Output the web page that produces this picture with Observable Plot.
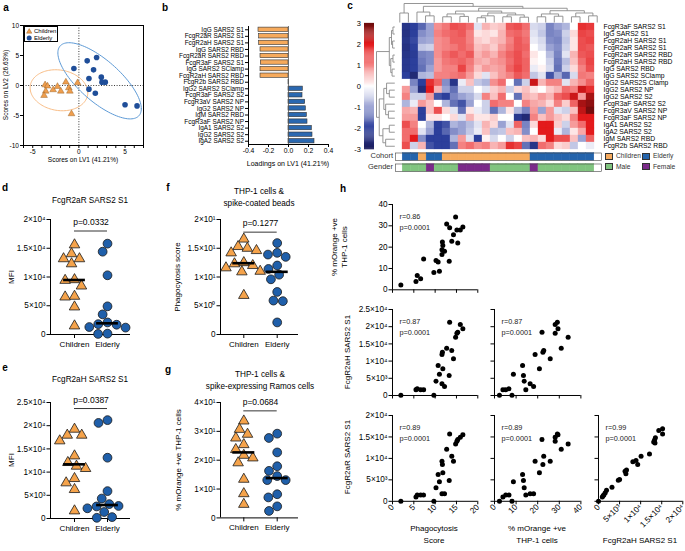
<!DOCTYPE html>
<html>
<head>
<meta charset="utf-8">
<script src="https://cdn.jsdelivr.net/npm/d3@7"></script>
<script src="https://cdn.jsdelivr.net/npm/@observablehq/plot@0.6"></script>
<style>
html,body{margin:0;padding:0;background:#fff;}
#fig{position:relative;width:685px;height:551px;overflow:hidden;background:#fff;font-family:"Liberation Sans",Arial,Helvetica,sans-serif;color:#000;}
.t{position:absolute;white-space:nowrap;line-height:1;}
</style>
</head>
<body>
<div id="fig"></div>
<script>
// ================= DATA =================
const cohortGroups = ["Children", "Elderly"];

// Panel a: PLS-DA scores
const aChildrenX = [-3.66,-3.40,-3.59,-3.77,-2.79,-2.32,-1.41,-1.96,-1.09,-0.98,-0.14,-0.80];
const aChildrenY = [0.10,-0.10,-0.95,-1.67,-0.72,-0.17,0.56,-0.95,-0.39,-0.95,0.44,-4.72];
const aElderlyX  = [-0.54,0.90,1.92,1.59,1.09,2.43,2.50,2.86,1.09,1.78,5.00,6.30];
const aElderlyY  = [2.83,4.11,4.67,2.61,1.17,1.39,0.56,0.56,-0.61,-1.28,-3.22,-3.40];

// Panel b: loadings on LV1
const bFeatures = ["IgG SARS2 S1","FcgR2aR SARS2 S1","FcgR2aH SARS2 S1","IgG SARS2 RBD","FcgR2aR SARS2 RBD","FcgR3aF SARS2 S1","IgG SARS2 SClamp","FcgR2aH SARS2 RBD","FcgR2b SARS2 RBD","IgG2 SARS2 SClamp","FcgR3aF SARS2 S2","FcgR3aV SARS2 NP","IgG2 SARS2 NP","IgM SARS2 RBD","FcgR3aF SARS2 NP","IgA1 SARS2 S2","IgG2 SARS2 S2","IgA2 SARS2 S2"];
const bLoadings = [-0.300,-0.293,-0.293,-0.280,-0.280,-0.277,-0.280,-0.280,0.003,0.143,0.140,0.167,0.173,0.183,0.190,0.233,0.240,0.260];

// Panel c: heatmap (z-scores)
const hmRows = ["FcgR3aF SARS2 S1","IgG SARS2 S1","FcgR2aH SARS2 S1","FcgR2aR SARS2 S1","FcgR2aR SARS2 RBD","FcgR2aH SARS2 RBD","IgG SARS2 RBD","IgG SARS2 SClamp","IgG2 SARS2S Clamp","IgG2 SARS2 NP","IgG2 SARS2 S2","FcgR3aF SARS2 S2","FcgR3aV SARS2 NP","FcgR3aF SARS2 NP","IgA1 SARS2 S2","IgA2 SARS2 S2","IgM SARS2 RBD","FcgR2b SARS2 RBD"];
const hmValues = [
  [-2.3,-2.0,-1.6,-1.0,0.9,1.1,1.5,1.4,1.2,-0.3,0.6,0.4,0.5,1.4,1.5,1.2,-0.4,-0.5,-1.3,-1.0,-0.8,0.0,1.8,1.7],
  [-2.4,-2.0,-1.2,-1.0,1.0,1.2,1.3,1.4,1.0,0.2,0.3,0.2,0.6,1.2,1.3,1.1,-0.3,-0.6,-1.3,-1.2,-0.5,0.3,1.6,1.5],
  [-2.3,-1.9,-1.0,-0.9,0.9,1.0,1.3,1.3,1.0,0.4,0.3,0.5,0.6,1.0,1.4,1.2,-0.2,-0.4,-1.2,-1.3,-0.6,0.2,1.5,1.6],
  [-2.4,-2.0,-0.6,-0.5,0.9,1.0,1.1,1.3,1.1,0.5,0.6,0.4,0.8,1.1,1.4,1.3,0.0,-0.3,-1.0,-1.2,-0.5,0.2,1.5,1.4],
  [-2.3,-2.1,-1.3,-1.2,0.9,1.2,1.4,1.2,1.4,0.6,0.8,0.6,1.0,1.3,1.5,1.2,0.2,0.0,-0.7,-1.3,-0.3,0.6,1.4,1.5],
  [-2.2,-2.0,-1.4,-1.2,0.8,1.1,1.2,1.3,1.1,0.7,0.6,0.8,0.9,1.2,1.5,1.3,0.1,0.0,-0.5,-1.4,-0.7,0.5,1.2,1.6],
  [-2.2,-2.0,-1.5,-1.0,0.8,1.0,1.0,1.6,1.0,0.5,0.8,0.7,0.8,1.3,1.6,1.3,-0.2,0.1,-0.4,-1.5,-0.5,0.3,1.0,1.5],
  [-2.0,-2.6,-0.8,-0.7,1.0,1.0,1.1,1.2,0.8,0.3,-0.3,0.5,0.8,1.0,1.4,1.2,-0.6,-0.3,-1.8,-0.9,-1.6,-0.4,1.1,1.0],
  [0.0,-1.3,-2.0,1.8,1.3,-1.2,-2.3,-0.2,0.5,-0.6,-0.8,0.9,1.2,0.0,-1.5,-0.5,2.2,0.6,1.0,1.0,-0.3,0.6,0.9,1.3],
  [0.8,-1.0,-2.5,2.0,0.6,-1.0,-1.5,-0.5,-0.5,0.0,-0.3,0.4,0.6,-0.5,0.3,0.5,0.2,0.0,0.4,0.6,1.2,1.0,2.2,1.8],
  [1.0,-0.5,-0.5,0.8,-1.8,-2.0,-1.3,-1.0,-0.8,-0.4,1.0,0.5,1.2,0.0,-1.5,0.6,0.5,0.8,0.6,1.3,1.5,2.2,0.8,2.5],
  [-0.8,-0.2,0.8,0.5,0.0,-0.8,-1.5,-1.8,-1.0,0.0,-0.5,1.2,1.0,1.0,0.0,1.0,0.7,0.6,0.3,1.0,0.4,1.3,2.5,2.7],
  [0.7,0.6,-2.0,0.5,1.5,0.3,-0.3,-1.5,0.2,-0.2,-0.5,-1.5,-0.8,0.2,-0.8,-1.3,0.8,-1.0,0.8,-0.3,-0.5,0.5,2.3,2.9],
  [0.8,0.8,-2.0,0.2,0.2,0.0,0.3,-0.3,0.6,0.2,0.2,0.4,0.0,0.0,-2.2,-2.6,1.0,0.5,0.8,0.5,0.3,1.0,2.0,2.0],
  [1.5,1.0,0.0,-0.8,-2.0,-1.8,-0.8,-1.0,-0.7,-0.3,0.6,0.3,-1.0,-0.3,1.3,-1.3,0.3,2.0,2.0,0.4,-0.5,0.8,1.2,2.0],
  [1.2,1.2,-0.3,-1.0,-2.0,-1.6,-1.2,-1.0,-0.6,-0.2,0.5,-0.7,-0.6,0.5,0.6,-1.2,0.0,2.0,2.0,-0.2,-0.8,0.2,0.7,2.0],
  [1.2,2.0,-1.2,-2.0,-2.0,-2.0,-0.8,0.8,-0.3,-2.0,0.1,-0.4,0.0,-0.5,0.0,0.5,0.6,0.3,2.0,1.5,1.5,0.5,-1.0,1.3],
  [1.5,-0.5,0.6,-1.8,-2.0,-2.0,-1.5,1.0,1.2,0.9,1.0,0.6,0.8,1.8,1.6,-1.5,-2.3,1.2,1.0,0.3,0.4,-0.6,0.0,-0.2]
];
const hmCohort = "EECEECCCCCCCCCCCEEEEEEEE".split("").map(c => c === "C" ? "Children" : "Elderly");
const hmGender = "MMMFMMMFFFFMMMMMFMMMMMMM".split("").map(c => c === "M" ? "Male" : "Female");
const hmTicks = [-3,-2,-1,0,1,2,3];
// dendrograms: [height, left, right]; leaves are column/row indices
const colTree = [1.0, [0.5, 0, 1],
  [0.85, [0.55, 2, [0.35, 3, 4]],
    [0.75,
      [0.6, [0.45, [0.3, 5, 6], [0.32, 7, 8]], [0.5, [0.35, [0.25, 9, 10], 11], [0.4, [0.3, 12, 13], [0.28, 14, 15]]]],
      [0.62, [0.45, [0.3, 16, 17], [0.33, 18, 19]], [0.5, [0.3, 20, 21], [0.35, 22, 23]]]]]];
const rowTree = [1.0,
  [0.3, [0.18, [0.1, 0, 1], [0.12, 2, 3]], [0.22, [0.1, 4, 5], [0.15, 6, 7]]],
  [0.85, [0.6, [0.45, 8, [0.3, 9, 10]], [0.5, 11, [0.35, 12, 13]]], [0.65, [0.3, 14, 15], [0.5, 16, 17]]]];

// Panels d-g
const dChildren = [15600,14050,13180,13180,12300,9540,9420,8440,6650,6530,4800,1500];
const dElderly  = [15800,14400,10300,4900,3500,2100,1800,1700,1300,1200,150,100];
const eChildren = [19250,17960,17960,16740,13500,12070,11280,10780,8620,7690,6250,1650];
const eElderly  = [21200,20600,13100,5900,4300,3100,2700,2600,2200,1400,300,150];
const fChildren = [16.6,15.3,15.0,14.6,14.2,12.5,12.3,12.0,11.6,11.0,10.9,6.8];
const fElderly  = [15.9,14.2,13.9,13.5,12.0,11.4,10.4,9.6,7.4,5.9,5.8,2.1];
const gChildren = [33.6,30.7,29.0,27.7,25.4,23.7,21.7,20.8,19.1,13.4,8.4,4.7];
const gElderly  = [29.2,27.7,22.7,17.9,16.3,14.5,13.1,13.1,8.2,7.1,4.0,2.4];
const pValues = ["0.0332","0.0387","0.1277","0.0684"];

// Panel h: per-subject values (phagocytosis score, %mOrange, FcgR2aH S1, FcgR2aR S1)
const hP = [1.96,5.5,5.8,6.6,7.3,9.7,10.2,10.7,11.0,11.6,11.7,11.8,11.6,12.2,12.7,13.3,13.4,13.9,14.3,14.8,15.1,15.3,15.9,16.5];
const hM = [2.3,3.9,6.7,5.2,14.5,8.1,13.75,13.0,8.75,18.8,22.4,20.8,16.5,18.1,30.9,13.4,29.1,22.8,25.8,34.1,28.1,22.0,28.1,29.4];
const hH = [100,1650,1940,1650,1650,100,4170,8720,6200,11900,12600,7750,3390,2620,13760,5800,21300,13080,10660,16960,18120,18400,20640,19380];
const hR = [0,1000,1470,1470,1470,0,3170,6260,4560,9350,8580,6650,1780,1780,12140,4870,15690,10510,9350,13370,13990,14380,14920,15540];
// FcgR2aH vs FcgR2aR panel
const h3H = [0,900,1100,1300,1600,1900,3200,4700,5000,6300,6500,6650,8150,8900,9300,10100,12100,13100,13300,13400,13500,14300,15200,15200];
const h3R = [0,1000,1300,1500,2000,2550,3300,4900,5100,7000,6400,7300,9200,9500,8600,10500,11050,13800,14300,13600,14800,16500,16900,15700];
const hStats = [["0.86","0.0001"],["0.87","0.0001"],["0.87","0.0001"],["0.89","0.0001"],["0.89","0.0001"],["0.99","0.0001"]];

// ================= STYLE =================
const FONT = '"Liberation Sans", Arial, Helvetica, sans-serif';
const ORANGE = "#F5A34B", BLUE = "#1F5FAA";
const BAR_OR = "#F6AA5C", BAR_BL = "#2A68B0";
const COH = {Children: "#F5AA5E", Elderly: "#2464AC"};
const GEN = {Male: "#80C47F", Female: "#7B2A8A"};
const HM_COLORS = ["#1b1c5c","#2c3f9b","#9aa2d3","#ffffff","#f48282","#e31a1c","#6a0c0c"];
const hmColor = {type: "linear", domain: hmTicks, range: HM_COLORS, interpolate: "rgb", clamp: true};

const fig = document.getElementById("fig");
const SUP = {"0":"⁰","1":"¹","2":"²","3":"³","4":"⁴","5":"⁵","6":"⁶","7":"⁷","8":"⁸","9":"⁹","-":"⁻"};
function sci(v) {
  if (v === 0) return "0";
  const e = Math.floor(Math.log10(v) + 1e-9);
  const m = +(v / Math.pow(10, e)).toFixed(2);
  return `${m}×10${String(e).split("").map(c => SUP[c]).join("")}`;
}
function plotAt(fr, pad, opts, fontSize) {
  const width = fr.x1 - fr.x0 + pad.l + pad.r;
  const height = fr.y1 - fr.y0 + pad.t + pad.b;
  const el = Plot.plot({
    width, height, marginLeft: pad.l, marginRight: pad.r, marginTop: pad.t, marginBottom: pad.b,
    style: {background: "transparent", fontFamily: FONT, fontSize: fontSize + "px", overflow: "visible", color: "#000"},
    ...opts
  });
  el.style.position = "absolute";
  el.style.left = (fr.x0 - pad.l) + "px";
  el.style.top = (fr.y0 - pad.t) + "px";
  fig.appendChild(el);
  return el;
}
function txt(s, x, y, o = {}) {
  const {size = 8, anchor = "middle", rot = 0, bold = false, color = "#000"} = o;
  const d = document.createElement("div");
  d.className = "t"; d.textContent = s;
  d.style.fontSize = size + "px"; d.style.left = x + "px"; d.style.top = y + "px"; d.style.color = color;
  if (bold) d.style.fontWeight = "bold";
  const tx = anchor === "start" ? "0" : anchor === "end" ? "-100%" : "-50%";
  d.style.transform = `translate(${tx}, -50%)` + (rot ? ` rotate(${rot}deg)` : "");
  fig.appendChild(d);
  return d;
}
function box(x, y, w, h, color) {
  const d = document.createElement("div");
  d.style.cssText = `position:absolute;left:${x}px;top:${y}px;width:${w}px;height:${h}px;background:${color};border:0.7px solid #333;box-sizing:border-box;`;
  fig.appendChild(d);
}

// ================= PANEL a =================
const aChildren = aChildrenX.map((x, i) => ({x, y: aChildrenY[i]}));
const aElderly = aElderlyX.map((x, i) => ({x, y: aElderlyY[i]}));
function confEllipse(pts) {
  const n = pts.length, mx = d3.mean(pts, d => d.x), my = d3.mean(pts, d => d.y);
  const sxx = d3.sum(pts, d => (d.x - mx) ** 2) / (n - 1);
  const syy = d3.sum(pts, d => (d.y - my) ** 2) / (n - 1);
  const sxy = d3.sum(pts, d => (d.x - mx) * (d.y - my)) / (n - 1);
  const k = Math.sqrt(5.991);
  const l11 = Math.sqrt(sxx), l21 = sxy / l11, l22 = Math.sqrt(Math.max(syy - l21 * l21, 0));
  return d3.range(0, 121).map(j => {
    const t = 2 * Math.PI * j / 120, u = Math.cos(t), v = Math.sin(t);
    return {x: mx + k * l11 * u, y: my + k * (l21 * u + l22 * v)};
  });
}
plotAt({x0: 23, x1: 143, y0: 25, y1: 145}, {l: 23, r: 6, t: 4, b: 12}, {
  x: {domain: [-6, 7], axis: null}, y: {domain: [-10, 10], axis: null},
  marks: [
    Plot.ruleX([0], {stroke: "#222", strokeDasharray: "1,1.6", strokeWidth: 0.9}),
    Plot.ruleY([0], {stroke: "#222", strokeDasharray: "1,1.6", strokeWidth: 0.9}),
    Plot.line(confEllipse(aChildren), {x: "x", y: "y", stroke: "#F9BD86", strokeWidth: 1, clip: true}),
    Plot.line(confEllipse(aElderly), {x: "x", y: "y", stroke: "#5D9AD6", strokeWidth: 1, clip: true}),
    Plot.dot(aChildren, {x: "x", y: "y", symbol: "triangle", r: 2.5, fill: "#EF9E4E", stroke: "#8a5618", strokeWidth: 0.4}),
    Plot.dot(aElderly, {x: "x", y: "y", r: 2.8, fill: "#1F4E99"}),
    Plot.frame({stroke: "#000", strokeWidth: 1}),
    Plot.axisX({ticks: d3.range(-6, 8), tickSize: 3, tickPadding: 1, tickFormat: d => (d % 5 === 0 ? String(d) : ""), label: null}),
    Plot.axisY({ticks: [-10, -5, 0, 5, 10], tickSize: 3, tickPadding: 1.5, tickFormat: d => String(d), label: null})
  ]
}, 6.5);
// legend box
{
  const lg = document.createElement("div");
  lg.style.cssText = "position:absolute;left:24px;top:26px;width:34px;height:16px;border:0.7px solid #000;background:#fff;box-sizing:border-box;";
  lg.innerHTML = `<svg width="34" height="16" style="position:absolute;left:0;top:0;font-family:${FONT.replace(/"/g, "'")}">
    <path d="M4.2,1.6 L6.9,6.2 L1.5,6.2Z" fill="#EF9E4E" stroke="#8a5618" stroke-width="0.4"/>
    <circle cx="4.2" cy="11" r="2.5" fill="#1F4E99"/>
    <text x="9" y="6.4" font-size="6">Children</text>
    <text x="9" y="13.3" font-size="6">Elderly</text></svg>`;
  fig.appendChild(lg);
}
txt("Scores on LV1 (41.21%)", 83, 160, {size: 6.5});
txt("Scores on LV2 (26.63%)", 6, 85, {size: 6.5, rot: -90});

// ================= PANEL b =================
const bRows = bLoadings.map((v, i) => ({i, v}));
plotAt({x0: 248, x1: 328, y0: 25.5, y1: 143.5}, {l: 90, r: 8, t: 3, b: 12}, {
  x: {domain: [-0.4, 0.4], axis: null}, y: {domain: [-0.5, 17.5], reverse: true, axis: null},
  marks: [
    Plot.rect(bRows.filter(d => d.v < 0), {x1: 0, x2: "v", y1: d => d.i - 0.33, y2: d => d.i + 0.33, fill: BAR_OR, stroke: "#333", strokeWidth: 0.6}),
    Plot.rect(bRows.filter(d => d.v >= 0), {x1: 0, x2: "v", y1: d => d.i - 0.33, y2: d => d.i + 0.33, fill: BAR_BL, stroke: "#333", strokeWidth: 0.6}),
    Plot.ruleX([0], {stroke: "#555", strokeWidth: 0.8}),
    Plot.ruleX([-0.4], {stroke: "#000", strokeWidth: 1}),
    Plot.ruleY([17.5], {stroke: "#000", strokeWidth: 1}),
    Plot.axisY({ticks: d3.range(bFeatures.length), tickFormat: i => bFeatures[i], tickSize: 3, tickPadding: 1.5, label: null}),
    Plot.axisX({ticks: [-0.4, -0.2, 0, 0.2, 0.4], tickFormat: d => d.toFixed(1), tickSize: 3, tickPadding: 1, label: null, fontSize: 6.8})
  ]
}, 6.4);
txt("Loadings on LV1 (41.21%)", 288, 163, {size: 7});

// ================= PANEL c =================
const hmCells = hmValues.flatMap((row, r) => row.map((v, c) => ({r: hmRows[r], c, v})));
plotAt({x0: 395, x1: 601, y0: 22.7, y1: 149}, {l: 1, r: 84, t: 1, b: 1}, {
  x: {type: "band", domain: d3.range(24), padding: 0, axis: null},
  y: {type: "band", domain: hmRows, padding: 0, axis: null},
  color: hmColor,
  marks: [
    Plot.cell(hmCells, {x: "c", y: "r", fill: "v", stroke: "v", strokeWidth: 0.3}),
    Plot.axisY({anchor: "right", tickSize: 0, tickPadding: 2, label: null})
  ]
}, 6.8);
function treeSegs(node, segs) {
  if (typeof node === "number") return {pos: node, h: 0};
  const [h, a, b] = node;
  const A = treeSegs(a, segs), B = treeSegs(b, segs);
  segs.push({p1: A.pos, h1: h, p2: B.pos, h2: h});
  segs.push({p1: A.pos, h1: A.h, p2: A.pos, h2: h});
  segs.push({p1: B.pos, h1: B.h, p2: B.pos, h2: h});
  return {pos: (A.pos + B.pos) / 2, h};
}
const colSegs = []; treeSegs(colTree, colSegs);
const rowSegs = []; treeSegs(rowTree, rowSegs);
plotAt({x0: 395, x1: 601, y0: 2.7, y1: 21.7}, {l: 0, r: 0, t: 1, b: 1}, {
  x: {domain: [-0.5, 23.5], axis: null}, y: {domain: [0, 1], axis: null},
  marks: [Plot.link(colSegs, {x1: "p1", y1: "h1", x2: "p2", y2: "h2", stroke: "#8a8a8a", strokeWidth: 0.9})]
}, 7);
plotAt({x0: 375.7, x1: 394, y0: 22.7, y1: 149}, {l: 1, r: 1, t: 0, b: 0}, {
  x: {domain: [0, 1], reverse: true, axis: null}, y: {domain: [-0.5, 17.5], reverse: true, axis: null},
  marks: [Plot.link(rowSegs, {y1: "p1", x1: "h1", y2: "p2", x2: "h2", stroke: "#8a8a8a", strokeWidth: 0.9})]
}, 7);
// colour bar
const ramp = d3.range(-3, 3, 0.05);
plotAt({x0: 364, x1: 374, y0: 22.7, y1: 149}, {l: 22, r: 1, t: 5, b: 5}, {
  x: {domain: [0, 1], axis: null}, y: {domain: [-3, 3], axis: null},
  color: hmColor,
  marks: [
    Plot.rect(ramp, {x1: 0, x2: 1, y1: d => d, y2: d => d + 0.056, fill: d => d + 0.025}),
    Plot.axisY({ticks: hmTicks, tickSize: 0, tickPadding: 3.5, tickFormat: d => String(d), label: null})
  ]
}, 7.5);
// annotation bars
const annCols = d3.range(24);
plotAt({x0: 395, x1: 601, y0: 152.3, y1: 160}, {l: 0, r: 0, t: 0.5, b: 0.5}, {
  x: {type: "band", domain: annCols, padding: 0, axis: null},
  color: {domain: cohortGroups, range: [COH.Children, COH.Elderly]},
  marks: [Plot.cellX(annCols, {x: d => d, fill: d => hmCohort[d], stroke: d => hmCohort[d], strokeWidth: 0.3}), Plot.frame({stroke: "#444", strokeWidth: 0.6})]
}, 7);
plotAt({x0: 395, x1: 601, y0: 163, y1: 170.7}, {l: 0, r: 0, t: 0.5, b: 0.5}, {
  x: {type: "band", domain: annCols, padding: 0, axis: null},
  color: {domain: ["Male", "Female"], range: [GEN.Male, GEN.Female]},
  marks: [Plot.cellX(annCols, {x: d => d, fill: d => hmGender[d], stroke: d => hmGender[d], strokeWidth: 0.3}), Plot.frame({stroke: "#444", strokeWidth: 0.6})]
}, 7);
txt("Cohort", 393, 156.2, {size: 7.5, anchor: "end", color: "#333"});
txt("Gender", 393, 167, {size: 7.5, anchor: "end", color: "#333"});
box(605, 152.6, 8, 7.2, COH.Children); txt("Children", 616, 156.3, {size: 6.7, anchor: "start", color: "#333"});
box(642.3, 152.6, 8, 7.2, COH.Elderly); txt("Elderly", 653, 156.3, {size: 6.7, anchor: "start", color: "#333"});
box(605, 163.3, 8, 7.2, GEN.Male); txt("Male", 616, 167, {size: 6.7, anchor: "start", color: "#333"});
box(642.3, 163.3, 8, 7.2, GEN.Female); txt("Female", 653, 167, {size: 6.7, anchor: "start", color: "#333"});

// ================= PANELS d-g =================
function swarmOffsets(vals, ppu, diam) {
  const idx = d3.range(vals.length).sort((a, b) => d3.descending(vals[a], vals[b]));
  const placed = [], off = new Array(vals.length).fill(0);
  for (const i of idx) {
    const y = vals[i] * ppu;
    const near = placed.filter(p => Math.abs(p.y - y) < diam);
    const cands = [0];
    for (const p of near) { const dx = Math.sqrt(diam * diam - (p.y - y) ** 2); cands.push(p.x + dx, p.x - dx); }
    cands.sort((a, b) => Math.abs(a) - Math.abs(b) || a - b);
    let best = 0;
    for (const c of cands) {
      if (near.every(p => (p.x - c) ** 2 + (p.y - y) ** 2 >= diam * diam - 1e-6)) { best = c; break; }
    }
    off[i] = best; placed.push({x: best, y});
  }
  return off;
}
function dotPanel(fr, cx, children, elderly, yMax, yStep, pText, bracketY) {
  const unit = cx[1] - cx[0];
  const xDom = [(fr.x0 - cx[0]) / unit, (fr.x1 - cx[0]) / unit];
  const ppu = (fr.y1 - fr.y0) / yMax;
  const oc = swarmOffsets(children, ppu, 9.4), oe = swarmOffsets(elderly, ppu, 9.4);
  const cd = children.map((v, i) => ({x: oc[i] / unit, v}));
  const ed = elderly.map((v, i) => ({x: 1 + oe[i] / unit, v}));
  const med = [{g: 0, m: d3.median(children)}, {g: 1, m: d3.median(elderly)}];
  plotAt(fr, {l: 50, r: 8, t: 16, b: 20}, {
    x: {domain: xDom, axis: null}, y: {domain: [0, yMax], axis: null},
    marks: [
      Plot.ruleX([xDom[0]], {stroke: "#000", strokeWidth: 1}),
      Plot.ruleY([0], {stroke: "#000", strokeWidth: 1}),
      Plot.axisY({ticks: d3.range(0, yMax + yStep / 2, yStep), tickSize: 3.5, tickPadding: 1.5, tickFormat: sci, label: null, fontSize: 8.2}),
      Plot.axisX({ticks: [0, 1], tickSize: 4, tickPadding: 2.5, tickFormat: i => cohortGroups[i], label: null, fontSize: 8}),
      Plot.dot(cd, {x: "x", y: "v", symbol: "triangle", r: 3.9, fill: ORANGE, stroke: "#1a1a1a", strokeWidth: 0.8}),
      Plot.dot(ed, {x: "x", y: "v", r: 4.4, fill: BLUE, stroke: "#1a1a1a", strokeWidth: 0.8}),
      Plot.ruleY(med, {y: "m", x1: d => d.g - 0.33, x2: d => d.g + 0.33, stroke: "#000", strokeWidth: 2.6}),
      Plot.ruleY([bracketY], {x1: 0, x2: 1, stroke: "#000", strokeWidth: 0.8}),
      Plot.text([`p=${pText}`], {x: 0.5, y: bracketY, dy: -8.5, text: d => d, fontSize: 8.5})
    ]
  }, 8);
}
dotPanel({x0: 50, x1: 130, y0: 219, y1: 334}, [74, 107], dChildren, dElderly, 20000, 5000, pValues[0], 18000);
dotPanel({x0: 50, x1: 130, y0: 402.3, y1: 518.3}, [74, 107], eChildren, eElderly, 25000, 5000, pValues[1], 23700);
dotPanel({x0: 220, x1: 298, y0: 219, y1: 334}, [243.3, 276.7], fChildren, fElderly, 20, 5, pValues[2], 17.8);
dotPanel({x0: 220, x1: 298, y0: 402.3, y1: 517.7}, [243.3, 276.7], gChildren, gElderly, 40, 10, pValues[3], 37.1);
txt("FcgR2aR SARS2 S1", 90, 200.5, {size: 8.2});
txt("MFI", 12, 277, {size: 8, rot: -90});
txt("FcgR2aH SARS2 S1", 90, 380, {size: 8.2});
txt("MFI", 12, 460, {size: 8, rot: -90});
txt("THP-1 cells &", 259, 192, {size: 8.2});
txt("spike-coated beads", 259, 203.5, {size: 8.2});
txt("Phagocytosis score", 178, 277, {size: 8, rot: -90});
txt("THP-1 cells &", 260, 375, {size: 8.2});
txt("spike-expressing Ramos cells", 260, 387, {size: 8.2});
txt("% mOrange +ve THP-1 cells", 179, 460, {size: 8, rot: -90});

// ================= PANEL h =================
function scatter(fr, xs, ys, xDom, yDom, xTicks, yTicks, xFmt, yFmt, stat) {
  plotAt(fr, {l: 36, r: 4, t: 4, b: 24}, {
    x: {domain: xDom, axis: null}, y: {domain: yDom, axis: null},
    marks: [
      Plot.ruleX([xDom[0]], {stroke: "#000", strokeWidth: 1}),
      Plot.ruleY([yDom[0]], {stroke: "#000", strokeWidth: 1}),
      Plot.axisY({ticks: yTicks, tickSize: 3.5, tickPadding: 1.5, tickFormat: yFmt || (() => ""), label: null}),
      Plot.axisX({ticks: xTicks, tickSize: 3.5, tickPadding: 1, tickRotate: xFmt ? -45 : 0, tickFormat: xFmt || (() => ""), label: null}),
      Plot.dot(d3.range(xs.length), {x: i => xs[i], y: i => ys[i], r: 2.5, fill: "#000"}),
      Plot.text([`r=${stat[0]}\np=${stat[1]}`], {frameAnchor: "top-left", dx: 7, dy: 7, lineAnchor: "top", textAnchor: "start", lineHeight: 1.45, fontSize: 7.3, text: d => d, fill: "#222"})
    ]
  }, 8.2);
}
const tP = [0, 5, 10, 15, 20], tM = [0, 10, 20, 30, 40], tE = d3.range(0, 20001, 5000), tE25 = d3.range(0, 25001, 5000);
const num = d => String(d);
scatter({x0: 391.7, x1: 477, y0: 204, y1: 289.3}, hP, hM, [0, 20], [0, 40], tP, tM, null, num, hStats[0]);
scatter({x0: 391.7, x1: 477, y0: 309, y1: 395}, hP, hH, [0, 20], [0, 25000], tP, tE25, null, sci, hStats[1]);
scatter({x0: 494.3, x1: 580.7, y0: 309, y1: 395}, hM, hH, [0, 40], [0, 25000], tM, tE25, null, null, hStats[2]);
scatter({x0: 391.7, x1: 477, y0: 414.5, y1: 500.3}, hP, hR, [0, 20], [0, 20000], tP, tE, num, sci, hStats[3]);
scatter({x0: 494.3, x1: 580.7, y0: 414.5, y1: 500.3}, hM, hR, [0, 40], [0, 20000], tM, tE, num, null, hStats[4]);
scatter({x0: 597.7, x1: 682, y0: 414.5, y1: 500.3}, h3H, h3R, [0, 20000], [0, 20000], tE, tE, sci, null, hStats[5]);
txt("% mOrange +ve", 335, 247, {size: 8, rot: -90});
txt("THP-1 cells", 344.5, 247, {size: 8, rot: -90});
txt("FcgR2aH SARS2 S1", 348, 352, {size: 8, rot: -90});
txt("FcgR2aR SARS2 S1", 348, 457, {size: 8, rot: -90});
txt("Phagocytosis", 434, 529, {size: 8});
txt("Score", 434, 541, {size: 8});
txt("% mOrange +ve", 537, 529, {size: 8});
txt("THP-1 cells", 537, 541, {size: 8});
txt("FcgR2aH SARS2 S1", 640, 541, {size: 8});

// panel letters
[["a", 6, 8], ["b", 165, 8], ["c", 350, 6], ["d", 5, 188], ["e", 5, 368], ["f", 168, 188], ["g", 168, 370], ["h", 343, 189]]
  .forEach(([s, x, y]) => txt(s, x, y, {size: 10, bold: true}));
</script>
</body>
</html>
